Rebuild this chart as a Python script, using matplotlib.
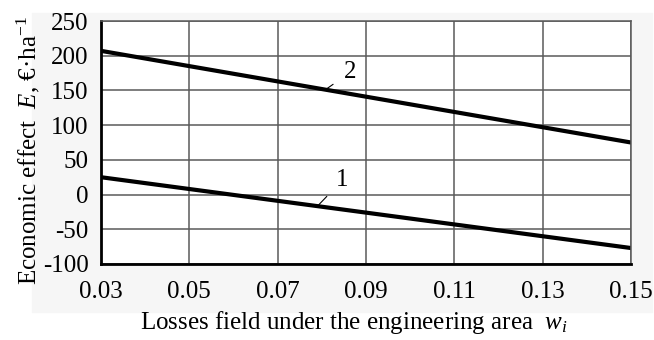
import matplotlib.pyplot as plt
from matplotlib.patches import Rectangle

# losses field values (x) and economic effect for the two curves
w = [0.03, 0.15]
effect_1 = [25, -77]
effect_2 = [207, 75]

x_ticks = [0.03, 0.05, 0.07, 0.09, 0.11, 0.13, 0.15]
y_ticks = [-100, -50, 0, 50, 100, 150, 200, 250]

plt.rcParams['font.family'] = ['Liberation Serif', 'DejaVu Serif']
plt.rcParams['mathtext.fontset'] = 'custom'
plt.rcParams['mathtext.it'] = 'Liberation Serif:italic'
plt.rcParams['mathtext.rm'] = 'Liberation Serif'
plt.rcParams['axes.unicode_minus'] = False

W, H = 654, 340
fig = plt.figure(figsize=(W / 100, H / 100), dpi=100)
# light grey panel behind the chart like the scanned figure
fig.patches.append(Rectangle((32 / W, 1 - 312 / H), 620 / W, 299 / H,
                             transform=fig.transFigure, color='#f6f6f6', zorder=-10))

ax = fig.add_axes([101 / W, 1 - 264 / H, 530 / W, 243 / H])

ax.plot(w, effect_1, color='black', linewidth=3.0, solid_capstyle='round')
ax.plot(w, effect_2, color='black', linewidth=3.0, solid_capstyle='round')

# curve numbers with small leader lines
ax.annotate('1', xy=(0.079, -16.7), xytext=(0.0847, 21), fontsize=18,
            ha='center', va='center',
            arrowprops=dict(arrowstyle='-', color='black', lw=0.8, shrinkB=0, shrinkA=7))
ax.annotate('2', xy=(0.0808, 151), xytext=(0.0864, 176), fontsize=18,
            ha='center', va='center',
            arrowprops=dict(arrowstyle='-', color='black', lw=0.8, shrinkB=0, shrinkA=7))

ax.set_xlim(0.03, 0.15)
ax.set_ylim(-100, 250)
ax.set_xticks(x_ticks)
ax.set_xticklabels([f'{t:.2f}' for t in x_ticks])
ax.set_yticks(y_ticks)
ax.set_yticklabels([str(t) for t in y_ticks])
ax.tick_params(length=0, labelsize=18)
ax.tick_params(axis='x', pad=12)
ax.tick_params(axis='y', pad=9)
ax.grid(True, color='#5a5a5a', linewidth=1.1)
ax.set_axisbelow(True)

for side in ['top', 'right']:
    ax.spines[side].set_color('#5a5a5a')
    ax.spines[side].set_linewidth(1.1)
for side in ['left', 'bottom']:
    ax.spines[side].set_color('black')
    ax.spines[side].set_linewidth(2.0)

fig.text(354 / W, 1 - 322 / H, 'Losses field under the engineering area  $w_i$',
         fontsize=18, ha='center', va='center')
fig.text(28 / W, 1 - 150 / H, 'Economic effect  $E$, €·ha$^{-1}$',
         fontsize=18, ha='center', va='center', rotation=90)

plt.savefig('out.png', dpi=100)
